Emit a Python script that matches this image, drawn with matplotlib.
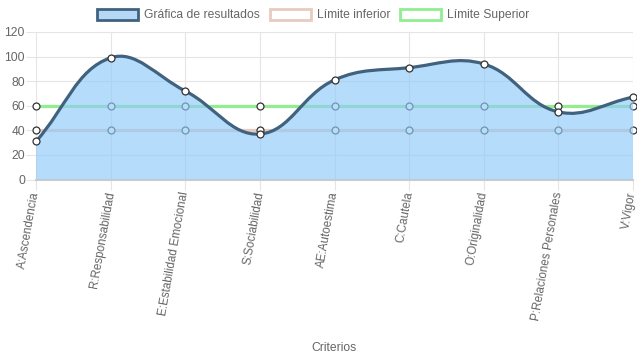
import numpy as np
import matplotlib
matplotlib.use("Agg")
import matplotlib.pyplot as plt
import matplotlib.transforms as transforms
from matplotlib.path import Path
from matplotlib.patches import PathPatch, Patch

plt.rcParams['font.family'] = ['Liberation Sans', 'DejaVu Sans']

categorias = ['A:Ascendencia', 'R:Responsabilidad', 'E:Estabilidad Emocional',
              'S:Sociabilidad', 'AE:Autoestima', 'C:Cautela', 'O:Originalidad',
              'P:Relaciones Personales', 'V:Vigor']
resultados = [31, 99, 72, 37, 81, 91, 94, 55, 67]
limite_inferior = [40] * 9
limite_superior = [60] * 9
y_ticks = [0, 20, 40, 60, 80, 100, 120]

line_col = '#41627f'
fill_col = '#90caf9'
inf_col = '#e8cbbf'
sup_col = '#90ee90'
txt_col = '#666666'
grid_col = '#e5e5e5'


def chartjs_curve(ax, xs, ys, t=0.4):
    # bezier control points like chart.js (computed in pixel space)
    pts = ax.transData.transform(np.column_stack([xs, ys]))
    bb = ax.get_window_extent()
    n = len(pts)
    verts = [pts[0]]
    codes = [Path.MOVETO]
    ctrl = []
    for i in range(n):
        prev = pts[i - 1] if i > 0 else pts[i]
        cur = pts[i]
        nxt = pts[i + 1] if i < n - 1 else pts[i]
        d01 = np.hypot(*(cur - prev))
        d12 = np.hypot(*(nxt - cur))
        s = d01 + d12
        s01 = d01 / s if s else 0
        s12 = d12 / s if s else 0
        cp = cur - t * s01 * (nxt - prev)
        cn = cur + t * s12 * (nxt - prev)
        cp[1] = np.clip(cp[1], bb.y0, bb.y1)
        cn[1] = np.clip(cn[1], bb.y0, bb.y1)
        ctrl.append((cp, cn))
    for i in range(1, n):
        verts += [ctrl[i - 1][1], ctrl[i][0], pts[i]]
        codes += [Path.CURVE4] * 3
    inv = ax.transData.inverted()
    return inv.transform(np.array(verts)), codes


fig = plt.figure(figsize=(6.37, 3.59), dpi=100)
ax = fig.add_axes([36 / 637, 179.5 / 359, 597 / 637, 147.5 / 359])
x = np.arange(len(categorias))
ax.set_xlim(0, len(categorias) - 1)
ax.set_ylim(0, 120)

# limit lines
ax.plot(x, limite_inferior, color=inf_col, lw=2.3, zorder=2, solid_capstyle='butt')
ax.plot(x, limite_superior, color=sup_col, lw=2.3, zorder=2, solid_capstyle='butt')
for vals in (limite_inferior, limite_superior):
    ax.plot(x, vals, 'o', ms=5, mfc='white', mec='#333333', mew=0.9, zorder=3,
            clip_on=False)

# results: filled smooth curve
verts, codes = chartjs_curve(ax, x, resultados)
line_path = Path(verts, codes)
fill_verts = np.vstack([verts, [[x[-1], 0], [x[0], 0], verts[0]]])
fill_codes = list(codes) + [Path.LINETO, Path.LINETO, Path.CLOSEPOLY]
ax.add_patch(PathPatch(Path(fill_verts, fill_codes), facecolor=fill_col,
                       edgecolor='none', alpha=0.65, zorder=4))
ax.add_patch(PathPatch(line_path, facecolor='none', edgecolor=line_col,
                       lw=2.3, zorder=5, clip_on=False))
ax.plot(x, resultados, 'o', ms=5, mfc='white', mec='#333333', mew=0.9, zorder=6,
        clip_on=False)

# grid and axes
ax.set_yticks(y_ticks)
ax.set_xticks(x)
ax.set_xticklabels(categorias, rotation=80, ha='right', va='center',
                   rotation_mode='anchor', fontsize=8.4)
shift = transforms.ScaledTranslation(2 / 100, 0, fig.dpi_scale_trans)
for lab in ax.get_xticklabels():
    lab.set_transform(lab.get_transform() + shift)
ax.grid(True, color=grid_col, lw=0.8)
ax.set_axisbelow(True)
for s in ['top', 'right', 'left']:
    ax.spines[s].set_visible(False)
ax.spines['bottom'].set_color('#cccccc')
ax.spines['bottom'].set_linewidth(1.5)
ax.tick_params(axis='both', color=grid_col, length=7, width=0.8,
               labelcolor=txt_col, pad=2)
ax.tick_params(axis='y', pad=1, labelsize=8.7)
ax.set_xlabel('Criterios', color=txt_col, fontsize=8.7)
ax.xaxis.set_label_coords(0.5, -1.1)

handles = [Patch(facecolor='#b5d8f7', edgecolor=line_col, lw=2.0),
           Patch(facecolor='white', edgecolor=inf_col, lw=2.0),
           Patch(facecolor='white', edgecolor=sup_col, lw=2.0)]
fig.legend(handles, ['Gráfica de resultados', 'Límite inferior', 'Límite Superior'],
           loc='center', bbox_to_anchor=(313 / 637, 1 - 15 / 359), ncol=3,
           frameon=False, fontsize=8.7, labelcolor=txt_col,
           handlelength=3.4, handleheight=1.0, handletextpad=0.5,
           columnspacing=0.8, borderpad=0)

fig.savefig('out.png', dpi=100)
